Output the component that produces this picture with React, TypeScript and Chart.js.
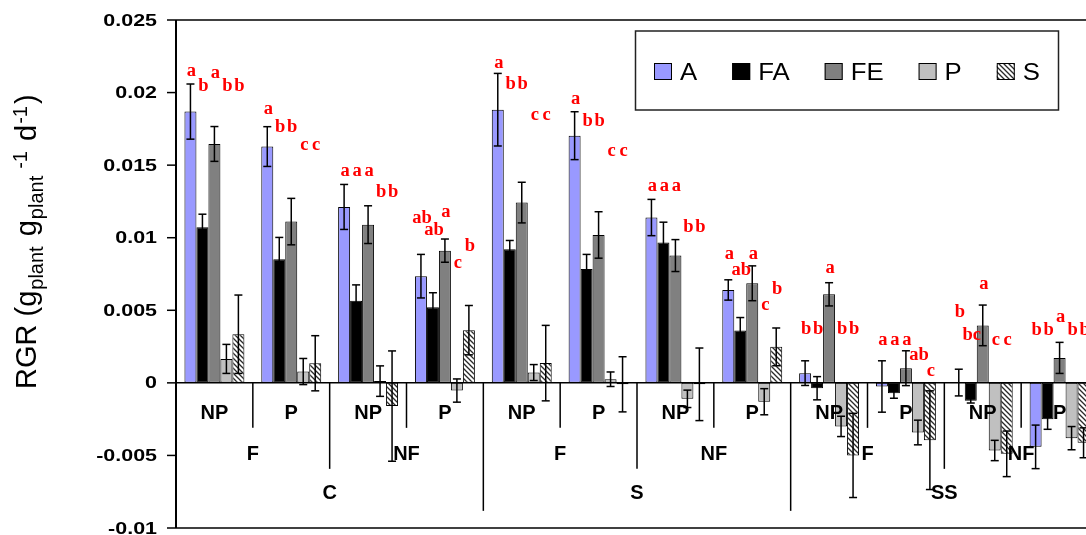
import React, { useEffect, useRef } from "react";
import { Chart, registerables } from "chart.js";
Chart.register(...registerables);

// ---------- data ----------
const categories = [
  "C-F-NP", "C-F-P", "C-NF-NP", "C-NF-P",
  "S-F-NP", "S-F-P", "S-NF-NP", "S-NF-P",
  "SS-F-NP", "SS-F-P", "SS-NF-NP", "SS-NF-P",
];
const phosphorusLabels = ["NP", "P", "NP", "P", "NP", "P", "NP", "P", "NP", "P", "NP", "P"];
const fertilizerLabels = ["F", "NF", "F", "NF", "F", "NF"];
const siteLabels = ["C", "S", "SS"];

const seriesNames = ["A", "FA", "FE", "P", "S"];

const valuesA = [0.01869, 0.01628, 0.01212, 0.00735, 0.01882, 0.01703, 0.01139, 0.0064, 0.00067, -0.00025, 0.00002, -0.00441];
const errorsA = [0.0019, 0.00137, 0.00155, 0.0015, 0.0025, 0.00165, 0.00125, 0.0007, 0.00085, 0.00177, 0.00092, 0.0015];
const valuesFA = [0.01072, 0.00852, 0.00565, 0.00521, 0.00921, 0.00785, 0.00967, 0.0036, -0.00037, -0.00071, -0.00124, -0.0025];
const errorsFA = [0.0009, 0.0015, 0.0011, 0.001, 0.0006, 0.001, 0.0014, 0.0009, 0.0008, 0.00035, 0.00015, 0.0007];
const valuesFE = [0.01646, 0.01111, 0.0109, 0.00911, 0.01242, 0.01019, 0.00877, 0.00686, 0.0061, 0.00101, 0.00396, 0.00172];
const errorsFE = [0.0012, 0.0016, 0.0013, 0.0008, 0.0014, 0.0016, 0.0011, 0.0012, 0.0008, 0.0012, 0.0014, 0.00107];
const valuesP = [0.00165, 0.00078, 0.00012, -0.00053, 0.00071, 0.00025, -0.0011, -0.0013, -0.003, -0.00342, -0.00466, -0.00381];
const errorsP = [0.001, 0.0009, 0.00105, 0.0008, 0.00055, 0.0005, 0.0006, 0.0009, 0.0007, 0.00085, 0.0007, 0.0008];
const valuesS = [0.00335, 0.00135, -0.0016, 0.00363, 0.00136, -0.0001, -0.0001, 0.00248, -0.005, -0.00395, -0.00489, -0.00413];
const errorsS = [0.0027, 0.0019, 0.0038, 0.0017, 0.0026, 0.0019, 0.0025, 0.0013, 0.0029, 0.0034, 0.00157, 0.00103];

const lettersA = ["a", "a", "a", "ab", "a", "a", "a", "a", "b", "a", "b", "b"];
const lettersFA = ["b", "b", "a", "ab", "b", "b", "a", "ab", "b", "a", "bc", "b"];
const lettersFE = ["a", "b", "a", "a", "b", "b", "a", "a", "a", "a", "a", "a"];
const lettersP = ["b", "c", "b", "c", "c", "c", "b", "c", "b", "ab", "c", "b"];
const lettersS = ["b", "c", "b", "b", "c", "c", "b", "b", "b", "c", "c", "b"];

const letterLevelA = [0.02144, 0.01885, 0.01455, 0.01134, 0.02202, 0.01954, 0.01357, 0.00886, 0.00372, 0.00291, 0.00484, 0.0036];
const letterLevelFA = [0.02041, 0.01761, 0.01455, 0.01054, 0.02057, 0.01806, 0.01357, 0.00778, 0.00372, 0.00291, 0.00331, 0.0036];
const letterLevelFE = [0.02135, 0.01761, 0.01455, 0.01173, 0.02057, 0.01806, 0.01357, 0.00886, 0.0079, 0.00291, 0.0068, 0.00452];
const letterLevelP = [0.02041, 0.01634, 0.01311, 0.00824, 0.01846, 0.01598, 0.0107, 0.00537, 0.00372, 0.00193, 0.00291, 0.0036];
const letterLevelS = [0.02041, 0.01634, 0.01311, 0.00944, 0.01846, 0.01598, 0.0107, 0.00645, 0.00372, 0.00083, 0.00291, 0.0036];

const yTickValues = [0.025, 0.02, 0.015, 0.01, 0.005, 0, -0.005, -0.01];
const yTickLabels = ["0.025", "0.02", "0.015", "0.01", "0.005", "0", "-0.005", "-0.01"];

const allValues = [valuesA, valuesFA, valuesFE, valuesP, valuesS];
const allErrors = [errorsA, errorsFA, errorsFE, errorsP, errorsS];
const allLetters = [lettersA, lettersFA, lettersFE, lettersP, lettersS];
const allLetterLevels = [letterLevelA, letterLevelFA, letterLevelFE, letterLevelP, letterLevelS];

// ---------- drawing helpers ----------
function makeHatch(ctx: CanvasRenderingContext2D): CanvasPattern | string {
  const c = document.createElement("canvas");
  c.width = 5;
  c.height = 5;
  const g = c.getContext("2d")!;
  g.fillStyle = "#fff";
  g.fillRect(0, 0, 5, 5);
  g.strokeStyle = "#2a2a2a";
  g.lineWidth = 1.3;
  g.beginPath();
  g.moveTo(-1, -1);
  g.lineTo(6, 6);
  g.moveTo(-1, 4);
  g.lineTo(1, 6);
  g.moveTo(4, -1);
  g.lineTo(6, 1);
  g.stroke();
  return ctx.createPattern(c, "repeat") || "#fff";
}

const SANS = '"Liberation Sans", Arial, Helvetica, sans-serif';
const SERIF = '"Liberation Serif", "Times New Roman", serif';

function line(ctx: CanvasRenderingContext2D, x1: number, y1: number, x2: number, y2: number, w: number) {
  ctx.lineWidth = w;
  ctx.beginPath();
  ctx.moveTo(x1, y1);
  ctx.lineTo(x2, y2);
  ctx.stroke();
}

export default function App() {
  const ref = useRef<HTMLCanvasElement>(null);

  useEffect(() => {
    const canvas = ref.current!;
    const ctx = canvas.getContext("2d")!;
    const hatch = makeHatch(ctx);
    const colors: any[] = ["#9999FF", "#000000", "#808080", "#C0C0C0", hatch];

    const overlay = {
      id: "overlay",
      afterDatasetsDraw(chart: any) {
        const c: CanvasRenderingContext2D = chart.ctx;
        const area = chart.chartArea;
        const ys = chart.scales.y;
        const xs = chart.scales.x;
        const y0 = ys.getPixelForValue(0);
        c.save();
        c.strokeStyle = "#000";
        c.fillStyle = "#000";

        // zero line
        line(c, area.left, y0, area.right, y0, 1.5);

        // error bars
        for (let d = 0; d < allValues.length; d++) {
          const meta = chart.getDatasetMeta(d);
          meta.data.forEach((bar: any, i: number) => {
            const v = allValues[d][i];
            const e = allErrors[d][i];
            const yt = ys.getPixelForValue(v + e);
            const yb = ys.getPixelForValue(v - e);
            line(c, bar.x, yt, bar.x, yb, 1.5);
            line(c, bar.x - 4, yt, bar.x + 4, yt, 1.5);
            line(c, bar.x - 4, yb, bar.x + 4, yb, 1.5);
          });
        }

        // significance letters
        c.fillStyle = "#FF0000";
        c.font = `bold 18.5px ${SERIF}`;
        c.textAlign = "center";
        c.textBaseline = "middle";
        for (let d = 0; d < allValues.length; d++) {
          const meta = chart.getDatasetMeta(d);
          meta.data.forEach((bar: any, i: number) => {
            c.fillText(allLetters[d][i], bar.x + 1, ys.getPixelForValue(allLetterLevels[d][i]));
          });
        }

        // frame / axes
        c.strokeStyle = "#000";
        c.fillStyle = "#000";
        line(c, area.left, area.top, area.left, area.bottom, 2);
        line(c, area.left, area.top, chart.width, area.top, 1.5);
        line(c, area.left, area.bottom, chart.width, area.bottom, 1.5);

        // y ticks and labels
        c.font = `bold 16.5px ${SANS}`;
        c.textAlign = "right";
        c.textBaseline = "middle";
        yTickValues.forEach((v, k) => {
          const py = ys.getPixelForValue(v);
          line(c, area.left - 9, py, area.left, py, 1.5);
          c.save();
          c.translate(area.left - 19, py + 1);
          c.scale(1.3, 1);
          c.fillText(yTickLabels[k], 0, 0);
          c.restore();
        });

        // x hierarchical labels and separators
        const cx = (i: number) => xs.getPixelForValue(i);
        const boundary = (k: number) => (cx(k - 1) + cx(k)) / 2;
        const sepLen = (k: number) => (k % 4 === 0 ? 128 : k % 2 === 0 ? 86 : 45);
        for (let k = 1; k < categories.length; k++) {
          line(c, boundary(k), y0, boundary(k), y0 + sepLen(k), 1.5);
        }
        c.font = `bold 20px ${SANS}`;
        c.textAlign = "center";
        c.textBaseline = "middle";
        phosphorusLabels.forEach((t, i) => c.fillText(t, cx(i), y0 + 31));
        fertilizerLabels.forEach((t, j) => c.fillText(t, boundary(2 * j + 1), y0 + 72));
        siteLabels.forEach((t, j) => c.fillText(t, boundary(4 * j + 2), y0 + 111));

        // legend
        const lx = 635.5, ly = 31, lw = 423, lh = 79;
        c.fillStyle = "#fff";
        c.fillRect(lx, ly, lw, lh);
        c.strokeStyle = "#222";
        c.lineWidth = 1.5;
        c.strokeRect(lx, ly, lw, lh);
        c.font = `23px ${SANS}`;
        c.textAlign = "left";
        c.textBaseline = "alphabetic";
        let x = 654;
        seriesNames.forEach((name, d) => {
          c.fillStyle = colors[d];
          c.fillRect(x, 63, 18, 17);
          c.strokeStyle = "#000";
          c.lineWidth = 1;
          c.strokeRect(x + 0.5, 63.5, 17, 16);
          c.fillStyle = "#000";
          c.save();
          c.translate(x + 26, 80);
          c.scale(1.12, 1);
          c.fillText(name, 0, 0);
          c.restore();
          x += 26 + c.measureText(name).width * 1.12 + 35;
        });

        // y-axis title
        c.save();
        c.translate(36, 389);
        c.rotate(-Math.PI / 2);
        c.fillStyle = "#000";
        c.textAlign = "left";
        c.textBaseline = "alphabetic";
        const main = `29px ${SANS}`;
        const small = `20px ${SANS}`;
        const parts = [
          { t: "RGR (g", f: main, dy: 0, gap: 0 },
          { t: "plant", f: small, dy: 7, gap: 1 },
          { t: " g", f: main, dy: 0, gap: 2 },
          { t: "plant", f: small, dy: 7, gap: 1 },
          { t: "-1", f: small, dy: -9, gap: 7 },
          { t: " d", f: main, dy: 0, gap: 2 },
          { t: "-1", f: small, dy: -9, gap: 1 },
          { t: ")", f: main, dy: 0, gap: 2 },
        ];
        let px = 0;
        for (const p of parts) {
          px += p.gap;
          c.font = p.f;
          c.fillText(p.t, px, p.dy);
          px += c.measureText(p.t).width;
        }
        c.restore();

        c.restore();
      },
    };

    const chart = new Chart(ctx, {
      type: "bar",
      data: {
        labels: categories,
        datasets: seriesNames.map((name, d) => ({
          label: name,
          data: allValues[d],
          backgroundColor: colors[d],
          borderColor: "#000",
          borderWidth: 1,
          borderSkipped: false,
          categoryPercentage: 0.78,
          barPercentage: 1.0,
        })),
      },
      options: {
        animation: false,
        responsive: false,
        devicePixelRatio: 1,
        layout: { padding: { left: 176, top: 20, right: 12, bottom: 7 } },
        plugins: { legend: { display: false }, tooltip: { enabled: false } },
        scales: {
          x: { display: false },
          y: { display: false, min: -0.01, max: 0.025 },
        },
      },
      plugins: [overlay],
    } as any);

    return () => chart.destroy();
  }, []);

  return (
    <div
      style={{
        position: "fixed",
        left: 0,
        top: 0,
        width: 1086,
        height: 535,
        overflow: "hidden",
        background: "#fff",
      }}
    >
      <canvas ref={ref} width={1110} height={535} style={{ display: "block", width: 1110, height: 535 }} />
    </div>
  );
}
